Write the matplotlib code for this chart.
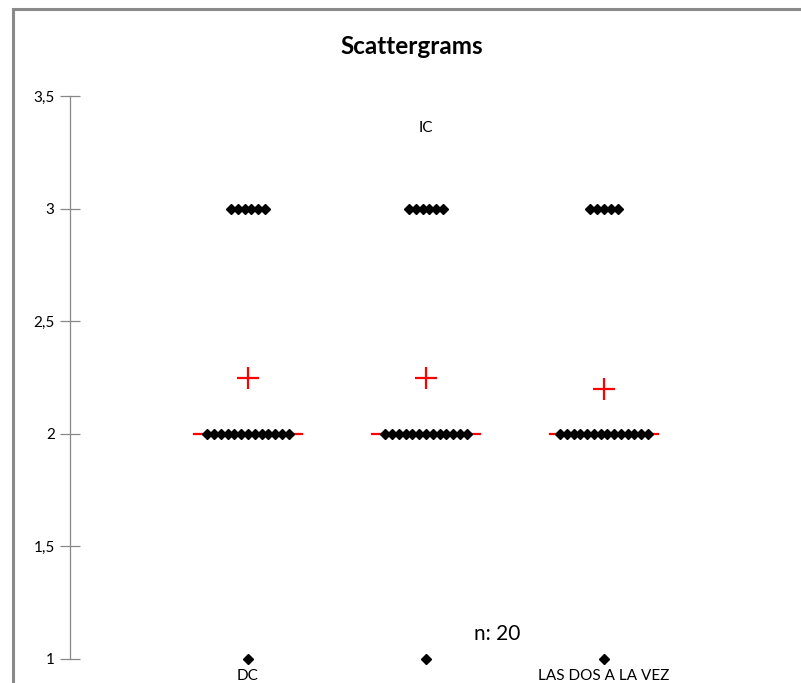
import matplotlib.pyplot as plt
from matplotlib.patches import Rectangle

plt.rcParams['font.family'] = ['Lato', 'DejaVu Sans']

# Scores per group: how many answers at each value
groups = ["DC", "IC", "LAS DOS A LA VEZ"]
levels = [1, 2, 3]
counts_dc = [1, 13, 6]
counts_ic = [1, 13, 6]
counts_dos = [1, 14, 5]
medians = [2, 2, 2]
means = [2.25, 2.25, 2.2]
n_total = 20

all_counts = [counts_dc, counts_ic, counts_dos]

fig = plt.figure(figsize=(8.01, 6.83), dpi=100)
ax = fig.add_axes([70 / 801, (683 - 659) / 683, 712 / 801, (659 - 96) / 683])

step = 0.038
for g, counts in enumerate(all_counts):
    xc = g + 1
    for lvl, c in zip(levels, counts):
        xs = [xc + (i - (c - 1) / 2) * step for i in range(c)]
        ax.plot(xs, [lvl] * c, linestyle="none", marker="D", markersize=5.2,
                color="black", clip_on=False, zorder=3)
    # median bar and mean cross
    ax.plot([xc - 0.305, xc + 0.305], [medians[g], medians[g]], color="red",
            lw=1.6, zorder=2)
    ax.plot(xc, means[g], marker="+", markersize=16, mew=1.6, color="red",
            linestyle="none", zorder=4)

# group names: first and last under the axis, middle one near the top
ax.text(1, 0.955, groups[0], ha="center", va="top", fontsize=11, clip_on=False)
ax.text(2, 3.36, groups[1], ha="center", va="center", fontsize=11)
ax.text(3, 0.955, groups[2], ha="center", va="top", fontsize=11, clip_on=False)

ax.text(2.4, 1.11, f"n: {n_total}", ha="center", va="center", fontsize=15)

ax.set_xlim(0, 4)
ax.set_ylim(1, 3.5)
ax.set_yticks([1, 1.5, 2, 2.5, 3, 3.5])
ax.set_yticklabels(["1", "1,5", "2", "2,5", "3", "3,5"], fontsize=11)
ax.set_xticks([])
ax.tick_params(axis="y", direction="inout", length=14, width=0.9,
               color="#888888", pad=4)
for side in ["top", "right", "bottom"]:
    ax.spines[side].set_visible(False)
ax.spines["left"].set_color("#888888")
ax.spines["left"].set_linewidth(0.9)

fig.text(412 / 801, 1 - 47 / 683, "Scattergrams", ha="center", va="center",
         fontsize=17.5, fontweight="bold")

# outer chart frame
fig.patches.append(Rectangle((13 / 801, -0.2), 1.2, 1 - 9 / 683 + 0.2,
                             transform=fig.transFigure, fill=False,
                             edgecolor="#8a8a8a", lw=2.2))

fig.savefig("out.png", dpi=100)
